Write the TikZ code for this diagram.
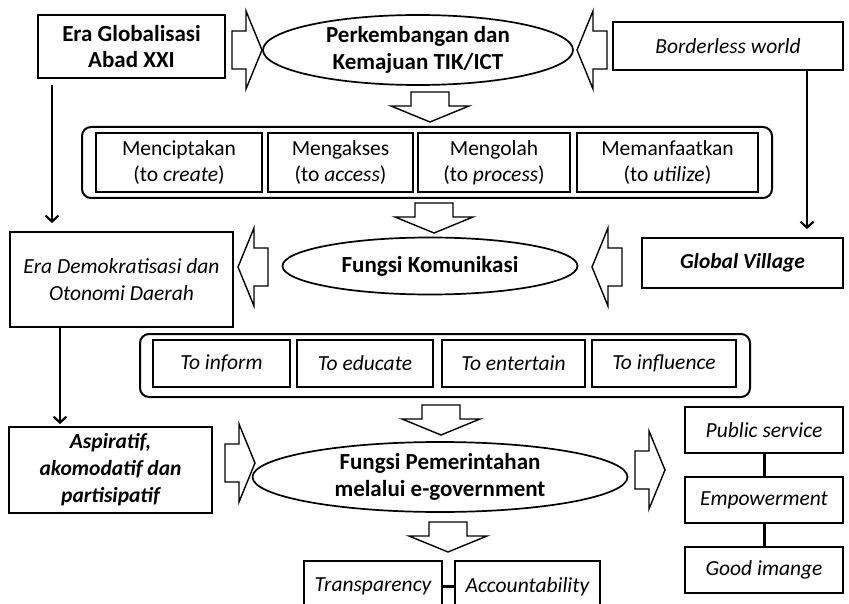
\documentclass[tikz,border=0pt]{standalone}
\usepackage{fontspec}
\setmainfont{Carlito}
\usetikzlibrary{arrows.meta, shapes.geometric, positioning}

\begin{document}
\begin{tikzpicture}[x=1pt, y=-1pt]
    \tikzset{
        box/.style={rectangle, draw, line width=1.8pt, align=center, inner sep=0pt,
            font=\fontsize{21.5}{26}\selectfont},
        headbox/.style={box, font=\fontsize{23}{26}\selectfont\bfseries},
        sidebox/.style={box, font=\fontsize{21.5}{27}\selectfont\itshape},
        oval/.style={ellipse, draw, line width=1.7pt, align=center, inner sep=0pt,
            font=\fontsize{23}{27}\selectfont\bfseries},
        holder/.style={rectangle, rounded corners=9pt, draw, line width=2pt,
            inner sep=0pt},
        itembox/.style={box, line width=2pt},
        link/.style={line width=3pt},
        vline/.style={line width=2.2pt, -{Straight Barb[length=6pt, width=13pt, line width=2.2pt]}},
        hollow/.style={draw, line width=1.4pt, fill=white},
        blockarrow/.pic={\draw[hollow] (0,-19) -- (14,-19) -- (14,-39) -- (30,0)
            -- (14,39) -- (14,19) -- (0,19) -- cycle;}
    }
    \useasboundingbox (0,0) rectangle (849,604);
    \clip (0,0) rectangle (849,604);
    % top row
    \node[headbox, minimum width=187pt, minimum height=63pt] (era) at (131.5,46.5)
        {Era Globalisasi\\Abad XXI};
    \node[oval, minimum width=310pt, minimum height=70pt] (tik) at (418,50)
        {Perkembangan dan\\Kemajuan TIK/ICT};
    \node[sidebox, minimum width=230pt, minimum height=48pt] (border) at (728,46)
        {Borderless world};
    % activities
    \node[holder, minimum width=690pt, minimum height=71pt] (actions) at (427,162.5) {};
    \node[itembox, minimum width=166pt, minimum height=59pt] (create) at (179,162.5)
        {Menciptakan\\(to \textit{create})};
    \node[itembox, minimum width=145pt, minimum height=59pt] (access) at (340.5,162.5)
        {Mengakses\\(to \textit{access})};
    \node[itembox, minimum width=152pt, minimum height=59pt] (process) at (494,162.5)
        {Mengolah\\(to \textit{process})};
    \node[itembox, minimum width=181pt, minimum height=59pt] (utilize) at (667.5,162.5)
        {Memanfaatkan\\(to \textit{utilize})};
    % communication row
    \node[oval, minimum width=295pt, minimum height=57pt] (komunikasi) at (430,266)
        {Fungsi Komunikasi};
    \node[sidebox, minimum width=223pt, minimum height=95pt] (demo) at (121.5,279.5)
        {Era Demokratisasi dan\\Otonomi Daerah};
    \node[sidebox, font=\fontsize{21.5}{27}\selectfont\bfseries\itshape,
        minimum width=201pt, minimum height=50pt] (village) at (742.5,263)
        {Global Village};
    % functions
    \node[holder, minimum width=610pt, minimum height=63pt] (functions) at (445,365.5) {};
    \node[itembox, font=\fontsize{21.5}{26}\selectfont\itshape,
        minimum width=137pt, minimum height=47pt] (inform) at (221.5,363.5) {To inform};
    \node[itembox, font=\fontsize{21.5}{26}\selectfont\itshape,
        minimum width=136pt, minimum height=47pt] (educate) at (365,363.5) {To educate};
    \node[itembox, font=\fontsize{21.5}{26}\selectfont\itshape,
        minimum width=143pt, minimum height=47pt] (entertain) at (513.5,363.5) {To entertain};
    \node[itembox, font=\fontsize{21.5}{26}\selectfont\itshape,
        minimum width=144pt, minimum height=47pt] (influence) at (664,363.5) {To influence};
    % government row
    \node[oval, minimum width=375pt, minimum height=70pt] (egov) at (440,477)
        {Fungsi Pemerintahan\\melalui e-government};
    \node[sidebox, font=\fontsize{21.5}{27}\selectfont\bfseries\itshape,
        minimum width=203pt, minimum height=86pt] (aspir) at (110.5,470)
        {Aspiratif,\\akomodatif dan\\partisipatif};
    \node[sidebox, minimum width=158pt, minimum height=46pt] (public) at (764,430)
        {Public service};
    \node[sidebox, minimum width=158pt, minimum height=46pt] (empower) at (764,500)
        {Empowerment};
    \node[sidebox, minimum width=158pt, minimum height=46pt] (image) at (764,570)
        {Good imange};
    \node[sidebox, minimum width=138pt, minimum height=51pt] (transp) at (373,586.5)
        {Transparency};
    \node[sidebox, minimum width=145pt, minimum height=51pt] (account) at (527.5,586.5)
        {Accountability};
    % connectors
    \draw[link] (public) -- (empower);
    \draw[link] (empower) -- (image);
    \draw[link] (transp) -- (account);
    \coordinate (l1) at (52,85);
    \coordinate (l2) at (60,327);
    \coordinate (r1) at (807,70);
    \draw[vline, shorten >=8pt] (l1) -- (l1 |- demo.north);
    \draw[vline, shorten >=2pt] (l2) -- (l2 |- aspir.north);
    \draw[vline, shorten >=8pt] (r1) -- (r1 |- village.north);
    % block arrows
    \pic at (232,50) {blockarrow};
    \pic[rotate=180] at (607,50) {blockarrow};
    \pic[rotate=-90] at (430,92) {blockarrow};
    \pic[rotate=-90] at (434,203) {blockarrow};
    \pic[rotate=180] at (268,267) {blockarrow};
    \pic[rotate=180] at (622,267) {blockarrow};
    \pic[rotate=-90] at (441,405) {blockarrow};
    \pic at (225,463) {blockarrow};
    \pic at (635,470) {blockarrow};
    \pic[rotate=-90] at (448,522) {blockarrow};
\end{tikzpicture}
\end{document}
